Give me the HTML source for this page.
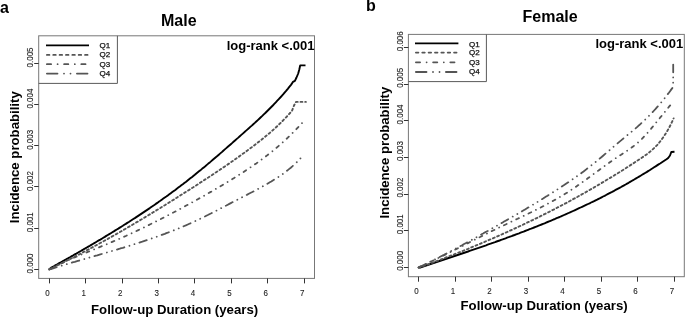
<!DOCTYPE html>
<html><head><meta charset="utf-8"><style>
html,body{margin:0;padding:0;background:#fff;}
svg{display:block;filter:blur(0.35px);}
text{font-family:"Liberation Sans",sans-serif;}
.tk{font-size:9px;fill:#222;stroke:#222;stroke-width:0.1px;}
.lg{font-size:8px;fill:#111;stroke:#111;stroke-width:0.25px;}
.pl{font-size:16px;font-weight:bold;fill:#000;}
.ti{font-size:16px;font-weight:bold;fill:#000;}
.lr{font-size:13px;font-weight:bold;fill:#000;}
.ax{font-size:13.2px;font-weight:bold;fill:#000;}
</style></head><body>
<svg width="685" height="317" viewBox="0 0 685 317">
<rect width="685" height="317" fill="#fff"/>
<rect x="38.7" y="35.8" width="275.8" height="242.6" fill="none" stroke="#777" stroke-width="1"/>
<line x1="49.5" y1="278.4" x2="49.5" y2="283.4" stroke="#333" stroke-width="1"/>
<text transform="translate(47.4 296.3) scale(0.885 1)" class="tk" text-anchor="middle">0</text>
<line x1="85.5" y1="278.4" x2="85.5" y2="283.4" stroke="#333" stroke-width="1"/>
<text transform="translate(83.8 296.3) scale(0.885 1)" class="tk" text-anchor="middle">1</text>
<line x1="122.5" y1="278.4" x2="122.5" y2="283.4" stroke="#333" stroke-width="1"/>
<text transform="translate(120.2 296.3) scale(0.885 1)" class="tk" text-anchor="middle">2</text>
<line x1="158.5" y1="278.4" x2="158.5" y2="283.4" stroke="#333" stroke-width="1"/>
<text transform="translate(156.6 296.3) scale(0.885 1)" class="tk" text-anchor="middle">3</text>
<line x1="194.5" y1="278.4" x2="194.5" y2="283.4" stroke="#333" stroke-width="1"/>
<text transform="translate(193.0 296.3) scale(0.885 1)" class="tk" text-anchor="middle">4</text>
<line x1="231.5" y1="278.4" x2="231.5" y2="283.4" stroke="#333" stroke-width="1"/>
<text transform="translate(229.4 296.3) scale(0.885 1)" class="tk" text-anchor="middle">5</text>
<line x1="267.5" y1="278.4" x2="267.5" y2="283.4" stroke="#333" stroke-width="1"/>
<text transform="translate(265.8 296.3) scale(0.885 1)" class="tk" text-anchor="middle">6</text>
<line x1="304.5" y1="278.4" x2="304.5" y2="283.4" stroke="#333" stroke-width="1"/>
<text transform="translate(302.2 296.3) scale(0.885 1)" class="tk" text-anchor="middle">7</text>
<line x1="34.2" y1="269.5" x2="38.7" y2="269.5" stroke="#333" stroke-width="1"/>
<text transform="translate(33.1 273.4) rotate(-90) scale(0.885 1)" class="tk">0.000</text>
<line x1="34.2" y1="228.5" x2="38.7" y2="228.5" stroke="#333" stroke-width="1"/>
<text transform="translate(33.1 232.2) rotate(-90) scale(0.885 1)" class="tk">0.001</text>
<line x1="34.2" y1="186.5" x2="38.7" y2="186.5" stroke="#333" stroke-width="1"/>
<text transform="translate(33.1 191.0) rotate(-90) scale(0.885 1)" class="tk">0.002</text>
<line x1="34.2" y1="145.5" x2="38.7" y2="145.5" stroke="#333" stroke-width="1"/>
<text transform="translate(33.1 149.8) rotate(-90) scale(0.885 1)" class="tk">0.003</text>
<line x1="34.2" y1="104.5" x2="38.7" y2="104.5" stroke="#333" stroke-width="1"/>
<text transform="translate(33.1 108.6) rotate(-90) scale(0.885 1)" class="tk">0.004</text>
<line x1="34.2" y1="63.5" x2="38.7" y2="63.5" stroke="#333" stroke-width="1"/>
<text transform="translate(33.1 67.4) rotate(-90) scale(0.885 1)" class="tk">0.005</text>
<polyline points="38.7,83.4 117.4,83.4 117.4,35.8" fill="none" stroke="#5a5a5a" stroke-width="1"/>
<line x1="46.0" y1="45.4" x2="89.0" y2="45.4" stroke="#000" stroke-width="1.9"/>
<text x="99.6" y="47.9" class="lg">Q1</text>
<line x1="46.9" y1="54.9" x2="88.1" y2="54.9" stroke="#555" stroke-width="1.8" stroke-dasharray="2.5 3.86" stroke-linecap="round"/>
<text x="99.6" y="57.3" class="lg">Q2</text>
<line x1="46.9" y1="64.2" x2="88.1" y2="64.2" stroke="#555" stroke-width="1.8" stroke-dasharray="4.2 6.5 0.01 6.5" stroke-linecap="round"/>
<text x="99.6" y="67.1" class="lg">Q3</text>
<line x1="46.9" y1="73.6" x2="88.1" y2="73.6" stroke="#555" stroke-width="1.8" stroke-dasharray="10.6 6.5 0.01 6.5 0.01 6.4" stroke-linecap="round"/>
<text x="99.6" y="75.8" class="lg">Q4</text>
<polyline points="49.3,269.4 50.8,267.9 52.3,267.1 53.8,266.3 55.3,265.4 56.8,264.6 58.3,263.7 59.8,262.9 61.3,262.1 62.8,261.2 64.3,260.4 65.8,259.5 67.3,258.7 68.8,257.8 70.3,257.0 71.8,256.1 73.3,255.3 74.8,254.4 76.3,253.6 77.8,252.7 79.3,251.8 80.8,251.0 82.3,250.1 83.8,249.2 85.3,248.4 86.8,247.5 88.3,246.6 89.8,245.8 91.3,244.9 92.8,244.0 94.3,243.1 95.8,242.2 97.3,241.3 98.8,240.4 100.3,239.6 101.8,238.7 103.3,237.8 104.8,236.9 106.3,235.9 107.8,235.0 109.3,234.1 110.8,233.2 112.3,232.3 113.8,231.4 115.3,230.4 116.8,229.5 118.3,228.6 119.8,227.6 121.3,226.7 122.8,225.8 124.3,224.8 125.8,223.9 127.3,222.9 128.8,222.0 130.3,221.0 131.8,220.0 133.3,219.0 134.8,218.1 136.3,217.1 137.8,216.1 139.3,215.1 140.8,214.1 142.3,213.1 143.8,212.1 145.3,211.1 146.8,210.1 148.3,209.1 149.8,208.1 151.3,207.0 152.8,206.0 154.3,205.0 155.8,203.9 157.3,202.9 158.8,201.8 160.3,200.8 161.8,199.7 163.3,198.6 164.8,197.5 166.3,196.5 167.8,195.4 169.3,194.3 170.8,193.2 172.3,192.1 173.8,191.0 175.3,189.9 176.8,188.7 178.3,187.6 179.8,186.5 181.3,185.3 182.8,184.2 184.3,183.0 185.8,181.9 187.3,180.7 188.8,179.5 190.3,178.3 191.8,177.2 193.3,176.0 194.8,174.8 196.3,173.5 197.8,172.3 199.3,171.1 200.8,169.9 202.3,168.6 203.8,167.4 205.3,166.2 206.8,164.9 208.3,163.6 209.8,162.4 211.3,161.1 212.8,159.8 214.3,158.5 215.8,157.2 217.3,156.0 218.8,154.7 220.3,153.4 221.8,152.1 223.3,150.7 224.8,149.4 226.3,148.1 227.8,146.8 229.3,145.5 230.8,144.2 232.3,142.9 233.8,141.5 235.3,140.2 236.8,138.9 238.3,137.6 239.8,136.2 241.3,134.9 242.8,133.6 244.3,132.3 245.8,130.9 247.3,129.6 248.8,128.3 250.3,126.9 251.8,125.6 253.3,124.2 254.8,122.9 256.3,121.5 257.8,120.1 259.3,118.7 260.8,117.3 262.3,115.9 263.8,114.4 265.3,113.0 266.8,111.5 268.3,110.0 269.8,108.5 271.3,107.0 272.8,105.5 274.3,103.9 275.8,102.3 277.3,100.7 278.8,99.1 280.3,97.5 281.8,95.8 283.3,94.1 284.8,92.3 286.3,90.6 287.8,88.8 289.3,86.9 290.8,85.1 291.5,84.2 293.0,81.8 294.9,80.8 296.5,77.5 298.2,73.5 299.3,69.5 300.2,65.4 305.5,65.4" fill="none" stroke="#000" stroke-width="1.9" stroke-linejoin="round"/>
<polyline points="49.3,269.4 50.8,268.5 52.3,267.8 53.8,267.1 55.3,266.4 56.8,265.6 58.3,264.9 59.8,264.2 61.3,263.4 62.8,262.7 64.3,261.9 65.8,261.2 67.3,260.4 68.8,259.7 70.3,258.9 71.8,258.1 73.3,257.4 74.8,256.6 76.3,255.8 77.8,255.0 79.3,254.3 80.8,253.5 82.3,252.7 83.8,251.9 85.3,251.1 86.8,250.3 88.3,249.5 89.8,248.7 91.3,247.9 92.8,247.1 94.3,246.3 95.8,245.5 97.3,244.7 98.8,243.8 100.3,243.0 101.8,242.2 103.3,241.4 104.8,240.5 106.3,239.7 107.8,238.9 109.3,238.0 110.8,237.2 112.3,236.3 113.8,235.5 115.3,234.6 116.8,233.8 118.3,232.9 119.8,232.1 121.3,231.2 122.8,230.3 124.3,229.5 125.8,228.6 127.3,227.7 128.8,226.8 130.3,226.0 131.8,225.1 133.3,224.2 134.8,223.3 136.3,222.4 137.8,221.6 139.3,220.7 140.8,219.8 142.3,218.9 143.8,218.0 145.3,217.1 146.8,216.2 148.3,215.3 149.8,214.4 151.3,213.5 152.8,212.5 154.3,211.6 155.8,210.7 157.3,209.8 158.8,208.9 160.3,208.0 161.8,207.0 163.3,206.1 164.8,205.2 166.3,204.2 167.8,203.3 169.3,202.4 170.8,201.4 172.3,200.5 173.8,199.6 175.3,198.6 176.8,197.7 178.3,196.7 179.8,195.8 181.3,194.8 182.8,193.9 184.3,192.9 185.8,192.0 187.3,191.0 188.8,190.1 190.3,189.1 191.8,188.1 193.3,187.2 194.8,186.2 196.3,185.3 197.8,184.3 199.3,183.3 200.8,182.3 202.3,181.4 203.8,180.4 205.3,179.4 206.8,178.4 208.3,177.5 209.8,176.5 211.3,175.5 212.8,174.5 214.3,173.5 215.8,172.5 217.3,171.5 218.8,170.5 220.3,169.5 221.8,168.5 223.3,167.5 224.8,166.5 226.3,165.4 227.8,164.4 229.3,163.4 230.8,162.3 232.3,161.3 233.8,160.3 235.3,159.2 236.8,158.1 238.3,157.1 239.8,156.0 241.3,154.9 242.8,153.8 244.3,152.8 245.8,151.7 247.3,150.6 248.8,149.4 250.3,148.3 251.8,147.2 253.3,146.1 254.8,144.9 256.3,143.8 257.8,142.6 259.3,141.4 260.8,140.3 262.3,139.1 263.8,137.9 265.3,136.6 266.8,135.4 268.3,134.1 269.8,132.9 271.3,131.6 272.8,130.2 274.3,128.9 275.8,127.5 277.3,126.1 278.8,124.7 280.3,123.2 281.8,121.8 283.3,120.2 284.8,118.7 286.3,117.1 287.8,115.5 289.3,113.8 290.8,112.2 292.0,110.8 294.0,105.5 296.0,101.9 305.9,101.9" fill="none" stroke="#555" stroke-width="1.9" stroke-linejoin="round" stroke-dasharray="1.9 2.8" stroke-linecap="round"/>
<polyline points="49.3,269.4 50.8,268.6 52.3,267.8 53.8,267.0 55.3,266.3 56.8,265.5 58.3,264.8 59.8,264.1 61.3,263.4 62.8,262.7 64.3,262.0 65.8,261.3 67.3,260.6 68.8,259.9 70.3,259.3 71.8,258.6 73.3,258.0 74.8,257.3 76.3,256.7 77.8,256.1 79.3,255.4 80.8,254.8 82.3,254.2 83.8,253.6 85.3,253.0 86.8,252.3 88.3,251.7 89.8,251.1 91.3,250.5 92.8,249.9 94.3,249.3 95.8,248.7 97.3,248.1 98.8,247.5 100.3,246.8 101.8,246.2 103.3,245.6 104.8,245.0 106.3,244.4 107.8,243.7 109.3,243.1 110.8,242.5 112.3,241.8 113.8,241.2 115.3,240.6 116.8,239.9 118.3,239.3 119.8,238.6 121.3,238.0 122.8,237.3 124.3,236.6 125.8,236.0 127.3,235.3 128.8,234.6 130.3,233.9 131.8,233.2 133.3,232.5 134.8,231.8 136.3,231.1 137.8,230.4 139.3,229.7 140.8,229.0 142.3,228.2 143.8,227.5 145.3,226.8 146.8,226.0 148.3,225.3 149.8,224.5 151.3,223.8 152.8,223.0 154.3,222.3 155.8,221.5 157.3,220.8 158.8,220.0 160.3,219.3 161.8,218.5 163.3,217.7 164.8,216.9 166.3,216.2 167.8,215.4 169.3,214.6 170.8,213.8 172.3,213.0 173.8,212.3 175.3,211.5 176.8,210.7 178.3,209.9 179.8,209.1 181.3,208.3 182.8,207.5 184.3,206.7 185.8,205.8 187.3,205.0 188.8,204.2 190.3,203.4 191.8,202.6 193.3,201.7 194.8,200.9 196.3,200.1 197.8,199.2 199.3,198.4 200.8,197.6 202.3,196.7 203.8,195.9 205.3,195.0 206.8,194.1 208.3,193.3 209.8,192.4 211.3,191.6 212.8,190.7 214.3,189.8 215.8,188.9 217.3,188.1 218.8,187.2 220.3,186.3 221.8,185.4 223.3,184.5 224.8,183.6 226.3,182.7 227.8,181.8 229.3,180.9 230.8,180.0 232.3,179.1 233.8,178.2 235.3,177.2 236.8,176.3 238.3,175.3 239.8,174.4 241.3,173.4 242.8,172.5 244.3,171.5 245.8,170.5 247.3,169.5 248.8,168.5 250.3,167.5 251.8,166.5 253.3,165.5 254.8,164.4 256.3,163.4 257.8,162.3 259.3,161.2 260.8,160.1 262.3,159.0 263.8,157.9 265.3,156.8 266.8,155.6 268.3,154.4 269.8,153.3 271.3,152.1 272.8,150.9 274.3,149.6 275.8,148.4 277.3,147.1 278.8,145.8 280.3,144.5 281.8,143.2 283.3,141.8 284.8,140.5 286.3,139.1 287.8,137.7 289.3,136.2 290.8,134.8 292.3,133.3 293.8,131.8 295.3,130.3 296.8,128.7 298.3,127.1 299.8,125.5 301.3,123.9 302.8,122.2 302.9,122.1" fill="none" stroke="#555" stroke-width="1.8" stroke-linejoin="round" stroke-dasharray="3 5.3 0.01 5.3" stroke-linecap="round"/>
<polyline points="49.3,269.4 50.8,269.1 52.3,268.6 53.8,268.1 55.3,267.7 56.8,267.2 58.3,266.7 59.8,266.3 61.3,265.8 62.8,265.4 64.3,264.9 65.8,264.5 67.3,264.0 68.8,263.6 70.3,263.1 71.8,262.7 73.3,262.2 74.8,261.8 76.3,261.3 77.8,260.9 79.3,260.5 80.8,260.0 82.3,259.6 83.8,259.2 85.3,258.7 86.8,258.3 88.3,257.9 89.8,257.4 91.3,257.0 92.8,256.6 94.3,256.1 95.8,255.7 97.3,255.3 98.8,254.8 100.3,254.4 101.8,254.0 103.3,253.5 104.8,253.1 106.3,252.7 107.8,252.2 109.3,251.8 110.8,251.4 112.3,250.9 113.8,250.5 115.3,250.0 116.8,249.6 118.3,249.1 119.8,248.7 121.3,248.2 122.8,247.8 124.3,247.3 125.8,246.9 127.3,246.4 128.8,246.0 130.3,245.5 131.8,245.0 133.3,244.5 134.8,244.1 136.3,243.6 137.8,243.1 139.3,242.6 140.8,242.1 142.3,241.7 143.8,241.2 145.3,240.7 146.8,240.2 148.3,239.7 149.8,239.1 151.3,238.6 152.8,238.1 154.3,237.6 155.8,237.1 157.3,236.5 158.8,236.0 160.3,235.4 161.8,234.9 163.3,234.3 164.8,233.8 166.3,233.2 167.8,232.7 169.3,232.1 170.8,231.5 172.3,230.9 173.8,230.3 175.3,229.7 176.8,229.1 178.3,228.5 179.8,227.9 181.3,227.3 182.8,226.6 184.3,226.0 185.8,225.4 187.3,224.7 188.8,224.0 190.3,223.4 191.8,222.7 193.3,222.0 194.8,221.3 196.3,220.6 197.8,219.9 199.3,219.2 200.8,218.5 202.3,217.8 203.8,217.0 205.3,216.3 206.8,215.5 208.3,214.8 209.8,214.0 211.3,213.3 212.8,212.5 214.3,211.7 215.8,210.9 217.3,210.2 218.8,209.4 220.3,208.6 221.8,207.8 223.3,207.0 224.8,206.2 226.3,205.5 227.8,204.7 229.3,203.9 230.8,203.1 232.3,202.3 233.8,201.5 235.3,200.8 236.8,200.0 238.3,199.2 239.8,198.4 241.3,197.7 242.8,196.9 244.3,196.1 245.8,195.4 247.3,194.6 248.8,193.8 250.3,193.0 251.8,192.3 253.3,191.5 254.8,190.7 256.3,189.9 257.8,189.1 259.3,188.3 260.8,187.5 262.3,186.6 263.8,185.8 265.3,185.0 266.8,184.1 268.3,183.2 269.8,182.3 271.3,181.5 272.8,180.5 274.3,179.6 275.8,178.7 277.3,177.7 278.8,176.7 280.3,175.7 281.8,174.7 283.3,173.6 284.8,172.5 286.3,171.3 287.8,170.1 289.3,168.9 290.8,167.7 292.3,166.4 293.8,165.0 295.3,163.6 296.8,162.2 298.3,160.7 299.8,159.1 301.3,157.5 301.5,157.3" fill="none" stroke="#555" stroke-width="1.8" stroke-linejoin="round" stroke-dasharray="7.7 5.3 0.01 5.3 0.01 5.2" stroke-linecap="round"/>
<text x="0" y="12.6" class="pl">a</text>
<text x="161" y="25.5" class="ti">Male</text>
<text x="314.5" y="49.8" class="lr" text-anchor="end">log-rank &lt;.001</text>
<text transform="translate(18.6 157.2) rotate(-90)" class="ax" text-anchor="middle">Incidence probability</text>
<text x="174.6" y="314" class="ax" text-anchor="middle">Follow-up Duration (years)</text>
<rect x="408.4" y="34.4" width="275.9" height="242.3" fill="none" stroke="#777" stroke-width="1"/>
<line x1="418.5" y1="276.7" x2="418.5" y2="281.7" stroke="#333" stroke-width="1"/>
<text transform="translate(416.5 293.8) scale(0.885 1)" class="tk" text-anchor="middle">0</text>
<line x1="455.5" y1="276.7" x2="455.5" y2="281.7" stroke="#333" stroke-width="1"/>
<text transform="translate(453.0 293.8) scale(0.885 1)" class="tk" text-anchor="middle">1</text>
<line x1="491.5" y1="276.7" x2="491.5" y2="281.7" stroke="#333" stroke-width="1"/>
<text transform="translate(489.5 293.8) scale(0.885 1)" class="tk" text-anchor="middle">2</text>
<line x1="528.5" y1="276.7" x2="528.5" y2="281.7" stroke="#333" stroke-width="1"/>
<text transform="translate(526.0 293.8) scale(0.885 1)" class="tk" text-anchor="middle">3</text>
<line x1="564.5" y1="276.7" x2="564.5" y2="281.7" stroke="#333" stroke-width="1"/>
<text transform="translate(562.5 293.8) scale(0.885 1)" class="tk" text-anchor="middle">4</text>
<line x1="601.5" y1="276.7" x2="601.5" y2="281.7" stroke="#333" stroke-width="1"/>
<text transform="translate(599.0 293.8) scale(0.885 1)" class="tk" text-anchor="middle">5</text>
<line x1="637.5" y1="276.7" x2="637.5" y2="281.7" stroke="#333" stroke-width="1"/>
<text transform="translate(635.5 293.8) scale(0.885 1)" class="tk" text-anchor="middle">6</text>
<line x1="674.5" y1="276.7" x2="674.5" y2="281.7" stroke="#333" stroke-width="1"/>
<text transform="translate(672.0 293.8) scale(0.885 1)" class="tk" text-anchor="middle">7</text>
<line x1="403.9" y1="267.5" x2="408.4" y2="267.5" stroke="#333" stroke-width="1"/>
<text transform="translate(402.7 270.8) rotate(-90) scale(0.885 1)" class="tk">0.000</text>
<line x1="403.9" y1="230.5" x2="408.4" y2="230.5" stroke="#333" stroke-width="1"/>
<text transform="translate(402.7 234.2) rotate(-90) scale(0.885 1)" class="tk">0.001</text>
<line x1="403.9" y1="194.5" x2="408.4" y2="194.5" stroke="#333" stroke-width="1"/>
<text transform="translate(402.7 197.6) rotate(-90) scale(0.885 1)" class="tk">0.002</text>
<line x1="403.9" y1="157.5" x2="408.4" y2="157.5" stroke="#333" stroke-width="1"/>
<text transform="translate(402.7 161.0) rotate(-90) scale(0.885 1)" class="tk">0.003</text>
<line x1="403.9" y1="120.5" x2="408.4" y2="120.5" stroke="#333" stroke-width="1"/>
<text transform="translate(402.7 124.4) rotate(-90) scale(0.885 1)" class="tk">0.004</text>
<line x1="403.9" y1="84.5" x2="408.4" y2="84.5" stroke="#333" stroke-width="1"/>
<text transform="translate(402.7 87.8) rotate(-90) scale(0.885 1)" class="tk">0.005</text>
<line x1="403.9" y1="47.5" x2="408.4" y2="47.5" stroke="#333" stroke-width="1"/>
<text transform="translate(402.7 51.2) rotate(-90) scale(0.885 1)" class="tk">0.006</text>
<polyline points="408.4,81.6 486.4,81.6 486.4,34.4" fill="none" stroke="#5a5a5a" stroke-width="1"/>
<line x1="415.0" y1="43.4" x2="458.4" y2="43.4" stroke="#000" stroke-width="1.9"/>
<text x="469.0" y="46.5" class="lg">Q1</text>
<line x1="415.9" y1="52.6" x2="457.5" y2="52.6" stroke="#555" stroke-width="1.8" stroke-dasharray="2.5 3.86" stroke-linecap="round"/>
<text x="469.0" y="55.0" class="lg">Q2</text>
<line x1="415.9" y1="62.3" x2="457.5" y2="62.3" stroke="#555" stroke-width="1.8" stroke-dasharray="4.2 6.5 0.01 6.5" stroke-linecap="round"/>
<text x="469.0" y="65.2" class="lg">Q3</text>
<line x1="415.9" y1="72.0" x2="457.5" y2="72.0" stroke="#555" stroke-width="1.8" stroke-dasharray="10.6 6.5 0.01 6.5 0.01 6.4" stroke-linecap="round"/>
<text x="469.0" y="74.2" class="lg">Q4</text>
<polyline points="418.6,267.5 420.1,267.5 421.6,267.0 423.1,266.5 424.6,266.0 426.1,265.5 427.6,265.0 429.1,264.5 430.6,264.0 432.1,263.5 433.6,263.0 435.1,262.5 436.6,262.0 438.1,261.5 439.6,261.0 441.1,260.5 442.6,260.0 444.1,259.5 445.6,259.0 447.1,258.5 448.6,258.0 450.1,257.5 451.6,257.0 453.1,256.5 454.6,256.0 456.1,255.5 457.6,255.0 459.1,254.5 460.6,254.0 462.1,253.5 463.6,253.0 465.1,252.5 466.6,252.0 468.1,251.5 469.6,250.9 471.1,250.4 472.6,249.9 474.1,249.4 475.6,248.9 477.1,248.4 478.6,247.9 480.1,247.3 481.6,246.8 483.1,246.3 484.6,245.8 486.1,245.3 487.6,244.7 489.1,244.2 490.6,243.7 492.1,243.1 493.6,242.6 495.1,242.1 496.6,241.5 498.1,241.0 499.6,240.5 501.1,239.9 502.6,239.4 504.1,238.8 505.6,238.3 507.1,237.7 508.6,237.2 510.1,236.6 511.6,236.1 513.1,235.5 514.6,235.0 516.1,234.4 517.6,233.8 519.1,233.3 520.6,232.7 522.1,232.1 523.6,231.6 525.1,231.0 526.6,230.4 528.1,229.8 529.6,229.2 531.1,228.7 532.6,228.1 534.1,227.5 535.6,226.9 537.1,226.3 538.6,225.7 540.1,225.1 541.6,224.5 543.1,223.9 544.6,223.3 546.1,222.6 547.6,222.0 549.1,221.4 550.6,220.8 552.1,220.2 553.6,219.5 555.1,218.9 556.6,218.2 558.1,217.6 559.6,217.0 561.1,216.3 562.6,215.7 564.1,215.0 565.6,214.3 567.1,213.7 568.6,213.0 570.1,212.3 571.6,211.7 573.1,211.0 574.6,210.3 576.1,209.6 577.6,208.9 579.1,208.2 580.6,207.5 582.1,206.8 583.6,206.1 585.1,205.4 586.6,204.7 588.1,204.0 589.6,203.3 591.1,202.5 592.6,201.8 594.1,201.1 595.6,200.3 597.1,199.6 598.6,198.8 600.1,198.1 601.6,197.3 603.1,196.5 604.6,195.8 606.1,195.0 607.6,194.2 609.1,193.4 610.6,192.6 612.1,191.9 613.6,191.1 615.1,190.2 616.6,189.4 618.1,188.6 619.6,187.8 621.1,187.0 622.6,186.1 624.1,185.3 625.6,184.5 627.1,183.6 628.6,182.8 630.1,181.9 631.6,181.0 633.1,180.2 634.6,179.3 636.1,178.4 637.6,177.5 639.1,176.6 640.6,175.7 642.1,174.8 643.6,173.9 645.1,173.0 646.6,172.1 648.1,171.1 649.6,170.2 651.1,169.2 652.6,168.3 654.1,167.3 655.6,166.4 657.1,165.4 658.6,164.4 660.1,163.5 661.6,162.5 663.1,161.5 664.6,160.5 666.1,159.5 667.6,158.4 668.0,158.2 670.0,155.5 671.3,152.0 674.5,151.8" fill="none" stroke="#000" stroke-width="1.9" stroke-linejoin="round"/>
<polyline points="418.6,267.5 420.1,267.3 421.6,266.7 423.1,266.2 424.6,265.6 426.1,265.1 427.6,264.5 429.1,264.0 430.6,263.4 432.1,262.8 433.6,262.3 435.1,261.7 436.6,261.1 438.1,260.6 439.6,260.0 441.1,259.4 442.6,258.8 444.1,258.3 445.6,257.7 447.1,257.1 448.6,256.5 450.1,255.9 451.6,255.4 453.1,254.8 454.6,254.2 456.1,253.6 457.6,253.0 459.1,252.4 460.6,251.8 462.1,251.2 463.6,250.6 465.1,250.0 466.6,249.4 468.1,248.8 469.6,248.1 471.1,247.5 472.6,246.9 474.1,246.3 475.6,245.7 477.1,245.0 478.6,244.4 480.1,243.8 481.6,243.1 483.1,242.5 484.6,241.9 486.1,241.2 487.6,240.6 489.1,239.9 490.6,239.3 492.1,238.6 493.6,238.0 495.1,237.3 496.6,236.7 498.1,236.0 499.6,235.4 501.1,234.7 502.6,234.0 504.1,233.4 505.6,232.7 507.1,232.0 508.6,231.3 510.1,230.6 511.6,230.0 513.1,229.3 514.6,228.6 516.1,227.9 517.6,227.2 519.1,226.5 520.6,225.8 522.1,225.1 523.6,224.4 525.1,223.7 526.6,222.9 528.1,222.2 529.6,221.5 531.1,220.8 532.6,220.1 534.1,219.3 535.6,218.6 537.1,217.9 538.6,217.1 540.1,216.4 541.6,215.6 543.1,214.9 544.6,214.1 546.1,213.4 547.6,212.6 549.1,211.9 550.6,211.1 552.1,210.3 553.6,209.6 555.1,208.8 556.6,208.0 558.1,207.2 559.6,206.4 561.1,205.7 562.6,204.9 564.1,204.1 565.6,203.3 567.1,202.5 568.6,201.7 570.1,200.9 571.6,200.0 573.1,199.2 574.6,198.4 576.1,197.6 577.6,196.8 579.1,195.9 580.6,195.1 582.1,194.2 583.6,193.4 585.1,192.6 586.6,191.7 588.1,190.9 589.6,190.0 591.1,189.1 592.6,188.3 594.1,187.4 595.6,186.5 597.1,185.7 598.6,184.8 600.1,183.9 601.6,183.0 603.1,182.1 604.6,181.2 606.1,180.3 607.6,179.4 609.1,178.5 610.6,177.6 612.1,176.7 613.6,175.8 615.1,174.8 616.6,173.9 618.1,173.0 619.6,172.1 621.1,171.1 622.6,170.2 624.1,169.2 625.6,168.3 627.1,167.3 628.6,166.4 630.1,165.4 631.6,164.4 633.1,163.5 634.6,162.5 636.1,161.5 637.6,160.5 639.1,159.5 640.6,158.5 642.1,157.5 643.6,156.5 645.1,155.5 646.6,154.4 648.1,153.3 649.6,152.1 651.1,150.8 652.6,149.5 654.1,148.1 655.6,146.6 657.1,145.1 658.6,143.4 660.1,141.5 661.6,139.6 663.1,137.5 664.6,135.3 666.1,132.9 667.6,130.4 669.1,127.7 670.6,124.8 672.1,121.7 673.6,118.4" fill="none" stroke="#555" stroke-width="1.9" stroke-linejoin="round" stroke-dasharray="1.9 2.8" stroke-linecap="round"/>
<polyline points="418.6,267.5 420.1,266.6 421.6,266.0 423.1,265.3 424.6,264.6 426.1,263.9 427.6,263.2 429.1,262.4 430.6,261.7 432.1,261.0 433.6,260.3 435.1,259.6 436.6,258.8 438.1,258.1 439.6,257.4 441.1,256.6 442.6,255.9 444.1,255.2 445.6,254.4 447.1,253.7 448.6,252.9 450.1,252.2 451.6,251.4 453.1,250.7 454.6,249.9 456.1,249.1 457.6,248.4 459.1,247.6 460.6,246.9 462.1,246.1 463.6,245.4 465.1,244.6 466.6,243.8 468.1,243.1 469.6,242.3 471.1,241.5 472.6,240.8 474.1,240.0 475.6,239.3 477.1,238.5 478.6,237.7 480.1,237.0 481.6,236.2 483.1,235.5 484.6,234.7 486.1,234.0 487.6,233.2 489.1,232.5 490.6,231.7 492.1,231.0 493.6,230.3 495.1,229.5 496.6,228.8 498.1,228.1 499.6,227.3 501.1,226.6 502.6,225.9 504.1,225.2 505.6,224.5 507.1,223.7 508.6,223.0 510.1,222.3 511.6,221.6 513.1,220.9 514.6,220.2 516.1,219.5 517.6,218.8 519.1,218.0 520.6,217.3 522.1,216.6 523.6,215.9 525.1,215.2 526.6,214.5 528.1,213.7 529.6,213.0 531.1,212.3 532.6,211.5 534.1,210.8 535.6,210.0 537.1,209.3 538.6,208.5 540.1,207.8 541.6,207.0 543.1,206.2 544.6,205.4 546.1,204.6 547.6,203.8 549.1,203.0 550.6,202.2 552.1,201.4 553.6,200.6 555.1,199.7 556.6,198.9 558.1,198.0 559.6,197.1 561.1,196.2 562.6,195.3 564.1,194.4 565.6,193.5 567.1,192.6 568.6,191.6 570.1,190.7 571.6,189.7 573.1,188.7 574.6,187.7 576.1,186.7 577.6,185.6 579.1,184.6 580.6,183.5 582.1,182.5 583.6,181.4 585.1,180.3 586.6,179.2 588.1,178.1 589.6,177.0 591.1,175.9 592.6,174.8 594.1,173.7 595.6,172.6 597.1,171.5 598.6,170.4 600.1,169.3 601.6,168.2 603.1,167.1 604.6,166.0 606.1,164.9 607.6,163.9 609.1,162.8 610.6,161.7 612.1,160.7 613.6,159.7 615.1,158.6 616.6,157.6 618.1,156.6 619.6,155.6 621.1,154.7 622.6,153.7 624.1,152.7 625.6,151.7 627.1,150.7 628.6,149.7 630.1,148.7 631.6,147.6 633.1,146.5 634.6,145.4 636.1,144.2 637.6,142.9 639.1,141.6 640.6,140.2 642.1,138.7 643.6,137.1 645.1,135.5 646.6,133.9 648.1,132.2 649.6,130.4 651.1,128.7 652.6,126.9 654.1,125.1 655.6,123.2 657.1,121.4 658.6,119.6 660.1,117.7 661.6,115.9 663.1,114.0 664.6,112.2 666.1,110.4 667.6,108.5 669.1,106.7 670.6,104.9 672.1,103.2 672.8,102.4" fill="none" stroke="#555" stroke-width="1.8" stroke-linejoin="round" stroke-dasharray="3 5.3 0.01 5.3" stroke-linecap="round"/>
<polyline points="418.6,267.5 420.1,266.7 421.6,266.0 423.1,265.2 424.6,264.5 426.1,263.8 427.6,263.1 429.1,262.3 430.6,261.6 432.1,260.9 433.6,260.1 435.1,259.4 436.6,258.6 438.1,257.8 439.6,257.1 441.1,256.3 442.6,255.5 444.1,254.8 445.6,254.0 447.1,253.2 448.6,252.4 450.1,251.6 451.6,250.8 453.1,250.0 454.6,249.2 456.1,248.4 457.6,247.6 459.1,246.8 460.6,246.0 462.1,245.2 463.6,244.3 465.1,243.5 466.6,242.7 468.1,241.9 469.6,241.0 471.1,240.2 472.6,239.4 474.1,238.5 475.6,237.7 477.1,236.9 478.6,236.0 480.1,235.2 481.6,234.3 483.1,233.5 484.6,232.6 486.1,231.8 487.6,231.0 489.1,230.1 490.6,229.3 492.1,228.4 493.6,227.6 495.1,226.7 496.6,225.9 498.1,225.0 499.6,224.2 501.1,223.3 502.6,222.5 504.1,221.6 505.6,220.7 507.1,219.9 508.6,219.0 510.1,218.1 511.6,217.3 513.1,216.4 514.6,215.5 516.1,214.7 517.6,213.8 519.1,212.9 520.6,212.0 522.1,211.2 523.6,210.3 525.1,209.4 526.6,208.5 528.1,207.6 529.6,206.7 531.1,205.8 532.6,204.9 534.1,204.0 535.6,203.1 537.1,202.2 538.6,201.2 540.1,200.3 541.6,199.4 543.1,198.5 544.6,197.5 546.1,196.6 547.6,195.7 549.1,194.7 550.6,193.8 552.1,192.8 553.6,191.9 555.1,190.9 556.6,190.0 558.1,189.0 559.6,188.0 561.1,187.0 562.6,186.0 564.1,185.1 565.6,184.1 567.1,183.1 568.6,182.1 570.1,181.0 571.6,180.0 573.1,179.0 574.6,177.9 576.1,176.9 577.6,175.8 579.1,174.7 580.6,173.6 582.1,172.5 583.6,171.4 585.1,170.3 586.6,169.1 588.1,168.0 589.6,166.8 591.1,165.6 592.6,164.4 594.1,163.2 595.6,162.0 597.1,160.7 598.6,159.5 600.1,158.2 601.6,157.0 603.1,155.7 604.6,154.4 606.1,153.1 607.6,151.8 609.1,150.6 610.6,149.3 612.1,148.0 613.6,146.7 615.1,145.4 616.6,144.2 618.1,142.9 619.6,141.6 621.1,140.4 622.6,139.1 624.1,137.9 625.6,136.7 627.1,135.4 628.6,134.2 630.1,132.9 631.6,131.7 633.1,130.4 634.6,129.2 636.1,127.9 637.6,126.6 639.1,125.2 640.6,123.9 642.1,122.5 643.6,121.1 645.1,119.7 646.6,118.2 648.1,116.7 649.6,115.2 651.1,113.7 652.6,112.1 654.1,110.5 655.6,108.9 657.1,107.2 658.6,105.5 660.1,103.7 661.6,102.0 663.1,100.1 664.6,98.3 666.1,96.4 667.6,94.4 669.1,92.5 670.6,90.4 672.1,88.4 672.5,87.8 673.2,82.2 673.2,64.0" fill="none" stroke="#555" stroke-width="1.8" stroke-linejoin="round" stroke-dasharray="7.7 5.3 0.01 5.3 0.01 5.2" stroke-linecap="round"/>
<text x="366" y="11.4" class="pl">b</text>
<text x="522.5" y="21.5" class="ti">Female</text>
<text x="683.2" y="48.3" class="lr" text-anchor="end">log-rank &lt;.001</text>
<text transform="translate(389.4 152.6) rotate(-90)" class="ax" text-anchor="middle">Incidence probability</text>
<text x="544.1" y="310.3" class="ax" text-anchor="middle">Follow-up Duration (years)</text>
</svg>
</body></html>
